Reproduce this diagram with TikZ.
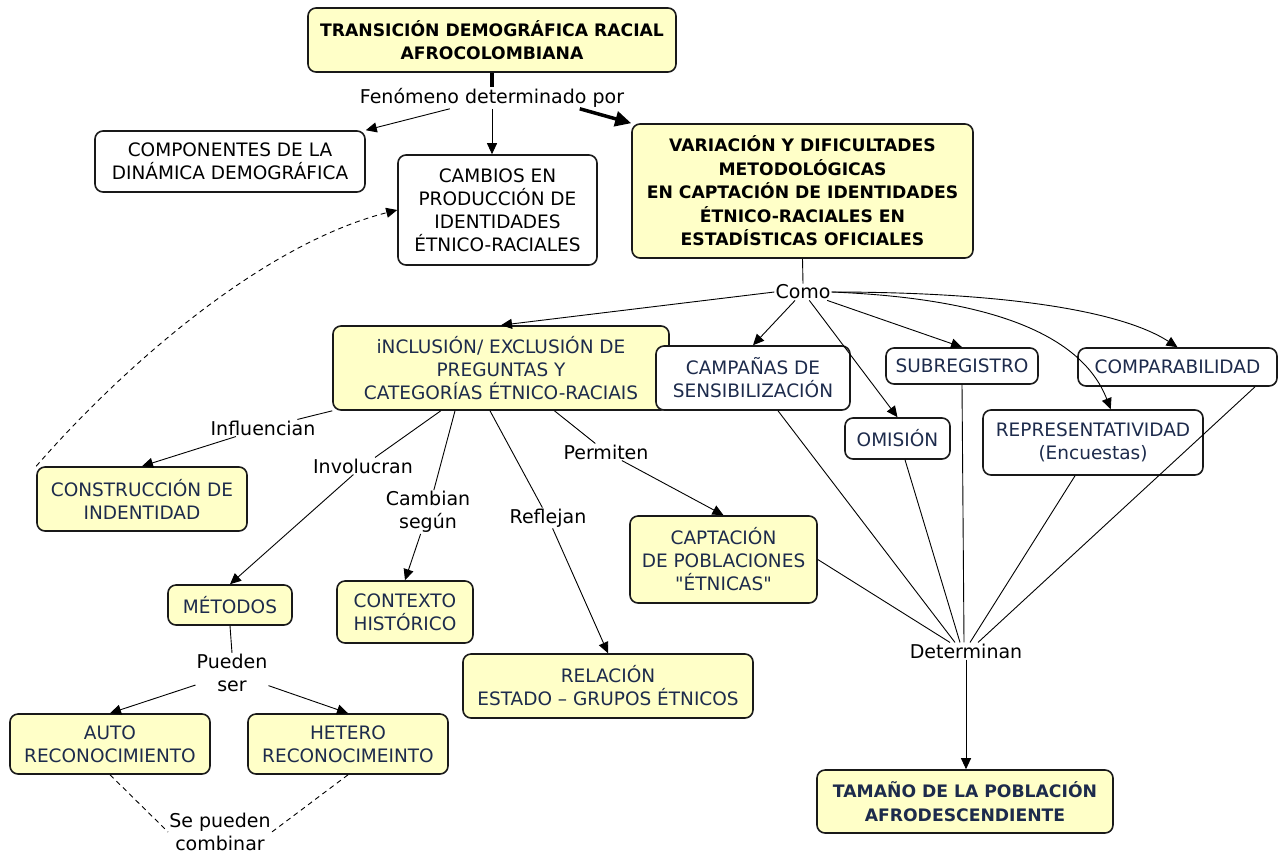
\documentclass[tikz,border=0pt]{standalone}
\usepackage{fontspec}
\setmainfont{DejaVu Sans}[Ligatures=TeXOff]
\usetikzlibrary{arrows.meta}
\definecolor{mapfill}{HTML}{FFFFC8}
\definecolor{mapnavy}{HTML}{1D2B4C}

\begin{document}
\begin{tikzpicture}[x=1pt,y=-1pt,>={Triangle[length=11pt,width=10pt]},
	concept/.style={shape=rectangle,draw=black!90,line width=1.6pt,rounded corners=8pt,align=center,inner sep=2pt,font=\fontsize{18.5}{23}\selectfont},
	yellowbox/.style={concept,fill=mapfill,text=mapnavy},
	whitebox/.style={concept,fill=white,text=mapnavy},
	plainbox/.style={concept,fill=white,text=black},
	headbox/.style={concept,fill=mapfill,font=\fontsize{17.2}{23.5}\selectfont\bfseries},
	phrase/.style={align=center,inner sep=1pt,font=\fontsize{19}{23}\selectfont},
	conn/.style={line width=0.9pt},
	dashlink/.style={conn,dash pattern=on 5pt off 4pt}]
	\useasboundingbox (0,0) rectangle (1284,855);

					\node (top) [headbox,minimum width=368,minimum height=64] at (492,40) {TRANSICIÓN DEMOGRÁFICA RACIAL\\AFROCOLOMBIANA};
					\node (fen) [phrase] at (492,98) {Fenómeno determinado por};
					\node (comp) [plainbox,minimum width=270,minimum height=61] at (230,161.5) {COMPONENTES DE LA\\DINÁMICA DEMOGRÁFICA};
					\node (cambios) [plainbox,minimum width=199,minimum height=110] at (497.5,210) {CAMBIOS EN\\PRODUCCIÓN DE\\IDENTIDADES\\ÉTNICO-RACIALES};
					\node (var) [headbox,minimum width=341,minimum height=134] at (802.5,191) {VARIACIÓN Y DIFICULTADES\\METODOLÓGICAS\\EN CAPTACIÓN DE IDENTIDADES\\ÉTNICO-RACIALES EN\\ESTADÍSTICAS OFICIALES};
					\node (como) [phrase] at (803,292) {Como};

					\node (incl) [yellowbox,minimum width=336,minimum height=84] at (501,368) {iNCLUSIÓN/ EXCLUSIÓN DE\\PREGUNTAS Y\\CATEGORÍAS ÉTNICO-RACIAIS};
					\node (camp) [whitebox,minimum width=194,minimum height=64] at (753,378) {CAMPAÑAS DE\\SENSIBILIZACIÓN};
					\node (subr) [whitebox,minimum width=152,minimum height=36] at (962,366) {SUBREGISTRO};
					\node (compar) [whitebox,minimum width=199,minimum height=38] at (1177.5,367) {COMPARABILIDAD};
					\node (omis) [whitebox,minimum width=105,minimum height=41] at (897.5,438.5) {OMISIÓN};
					\node (repr) [whitebox,minimum width=220,minimum height=65] at (1093,442.5) {REPRESENTATIVIDAD\\(Encuestas)};

					\node (influ) [phrase] at (263,428) {Influencian};
					\node (constr) [yellowbox,minimum width=210,minimum height=64] at (142,499) {CONSTRUCCIÓN DE\\INDENTIDAD};
					\node (invol) [phrase] at (363,466) {Involucran};
					\node (camb) [phrase] at (428,512) {Cambian\\según};
					\node (refl) [phrase] at (548,518) {Reflejan};
					\node (perm) [phrase] at (606,452) {Permiten};
					\node (metod) [yellowbox,minimum width=124,minimum height=40] at (230,605) {MÉTODOS};
					\node (ctx) [yellowbox,minimum width=136,minimum height=62] at (405,612) {CONTEXTO\\HISTÓRICO};
					\node (rel) [yellowbox,minimum width=290,minimum height=64] at (608,686) {RELACIÓN\\ESTADO – GRUPOS ÉTNICOS};
					\node (capt) [yellowbox,minimum width=187,minimum height=87] at (723.5,559.5) {CAPTACIÓN\\DE POBLACIONES\\"ÉTNICAS"};

					\node (det) [phrase] at (966,651) {Determinan};
					\node (tam) [headbox,text=mapnavy,minimum width=296,minimum height=63] at (965,801.5) {TAMAÑO DE LA POBLACIÓN\\AFRODESCENDIENTE};

					\node (pued) [phrase] at (232,673) {Pueden\\ser};
					\node (auto) [yellowbox,minimum width=200,minimum height=60] at (110,744) {AUTO\\RECONOCIMIENTO};
					\node (hetero) [yellowbox,minimum width=200,minimum height=60] at (348,744) {HETERO\\RECONOCIMEINTO};
					\node (comb) [phrase] at (220,832) {Se pueden\\combinar};

					\path[line width=3.5pt](top.south) edge (fen.north);
					\path[conn,->](fen) edge (comp.north east)
						(fen.south) edge (fen.south |- cambios.north);
					\draw[line width=3.5pt,-{Triangle[length=16pt,width=15pt]}](fen.-7.5) -- (var.north west);

					\path[conn](var.south) edge (como.north);
					\path[conn,->](como.west) edge (incl.north)
						(como) edge (camp.north)
						(como) edge (omis.north)
						(como) edge (subr.north);
					\draw[conn,->](como.east) .. controls (980,298) and (1080,330) .. (repr.62);
					\draw[conn,->](como.east) .. controls (1000,292) and (1120,310) .. (compar.north);

					\path[conn](incl.south west) edge (influ);
					\path[conn,->](influ) edge (constr.north);
					\path[conn](incl) edge (invol);
					\path[conn,->](invol) edge (metod.north);
					\path[conn](incl.south -| 455,0) edge (camb);
					\path[conn,->](camb) edge (ctx.north);
					\path[conn](incl.south -| 490,0) edge (refl);
					\path[conn,->](refl) edge (rel.north);
					\path[conn](incl) edge (perm);
					\path[conn,->](perm) edge (capt.north);

					\path[conn](capt.east) edge (det.north -| 950,0)
						(camp.south -| 778,0) edge (det.north -| 955,0)
						(omis.south -| 905,0) edge (det.north -| 960,0)
						(subr.south) edge (det.north -| 964,0)
						(repr.south -| 1075,0) edge (det.north -| 970,0)
						(compar.south -| 1255,0) edge (det.north -| 978,0);
					\path[conn,->](det.south) edge (det.south |- tam.north);

					\path[conn](metod.south) edge (pued.north);
					\path[conn,->](pued) edge (auto.north)
						(pued) edge (hetero.north);
					\path[dashlink](auto.south) edge (comb.west)
						(hetero.south) edge (comb.east);
					\draw[dashlink,->](constr.north west) .. controls (120,370) and (260,245) .. (cambios.west);
				\end{tikzpicture}
\end{document}
